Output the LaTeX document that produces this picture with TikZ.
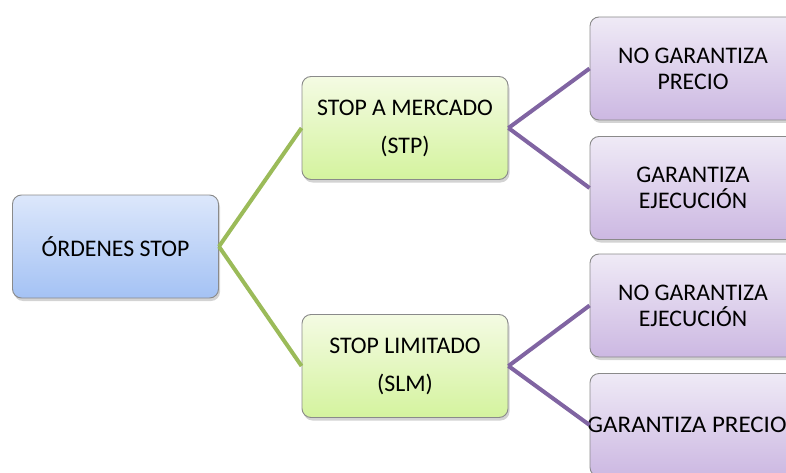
\documentclass[tikz,border=0pt]{standalone}
\usepackage{fontspec}
\usepackage{graphicx}
\setmainfont{Carlito}
\usetikzlibrary{shadows}
\definecolor{rootTop}{HTML}{DCE7FB}
\definecolor{rootBot}{HTML}{A4C2F4}
\definecolor{grnTop}{HTML}{F4FBE3}
\definecolor{grnBot}{HTML}{D4F39E}
\definecolor{purTop}{HTML}{EFEAF6}
\definecolor{purBot}{HTML}{CCB8E2}
\definecolor{grnLine}{HTML}{9BBB59}
\definecolor{purLine}{HTML}{8064A2}
\definecolor{boxEdge}{HTML}{8A8A8A}
\begin{document}
\begin{tikzpicture}[x=1pt,y=-1pt,
  box/.style={rectangle, rounded corners=9pt, draw=boxEdge, line width=0.9pt,
    minimum width=206pt, minimum height=103pt, align=center, inner sep=0pt,
    font=\fontsize{23.8}{26}\selectfont,
    drop shadow={opacity=0.35, shadow xshift=1.5pt, shadow yshift=-3pt}},
  rootbox/.style={box, top color=rootTop, bottom color=rootBot},
  grnbox/.style={box, top color=grnTop, bottom color=grnBot},
  purbox/.style={box, top color=purTop, bottom color=purBot},
  grnlink/.style={draw=grnLine, line width=4pt},
  purlink/.style={draw=purLine, line width=4pt}]
\useasboundingbox (0,0) rectangle (786,473);
\clip (0,0) rectangle (786,473);
\node[rootbox] (root) at (115.5,246.5) {ÓRDENES STOP};
\node[grnbox] (stp) at (405,128) {STOP A MERCADO\\[12pt](STP)};
\node[grnbox] (slm) at (405,366) {STOP LIMITADO\\[12pt](SLM)};
\node[purbox] (r1) at (693,68.5) {NO GARANTIZA\\PRECIO};
\node[purbox] (r2) at (693,188) {GARANTIZA\\EJECUCIÓN};
\node[purbox] (r3) at (693,305.5) {NO GARANTIZA\\EJECUCIÓN};
\node[purbox] (r4) at (693,425) {\hspace*{-12pt}\scalebox{1.05}[1]{GARANTIZA PRECIO}};
\draw[grnlink] (root.east) -- (stp.west);
\draw[grnlink] (root.east) -- (slm.west);
\draw[purlink] (stp.east) -- (r1.west);
\draw[purlink] (stp.east) -- (r2.west);
\draw[purlink] (slm.east) -- (r3.west);
\draw[purlink] (slm.east) -- (r4.west);
\end{tikzpicture}
\end{document}
